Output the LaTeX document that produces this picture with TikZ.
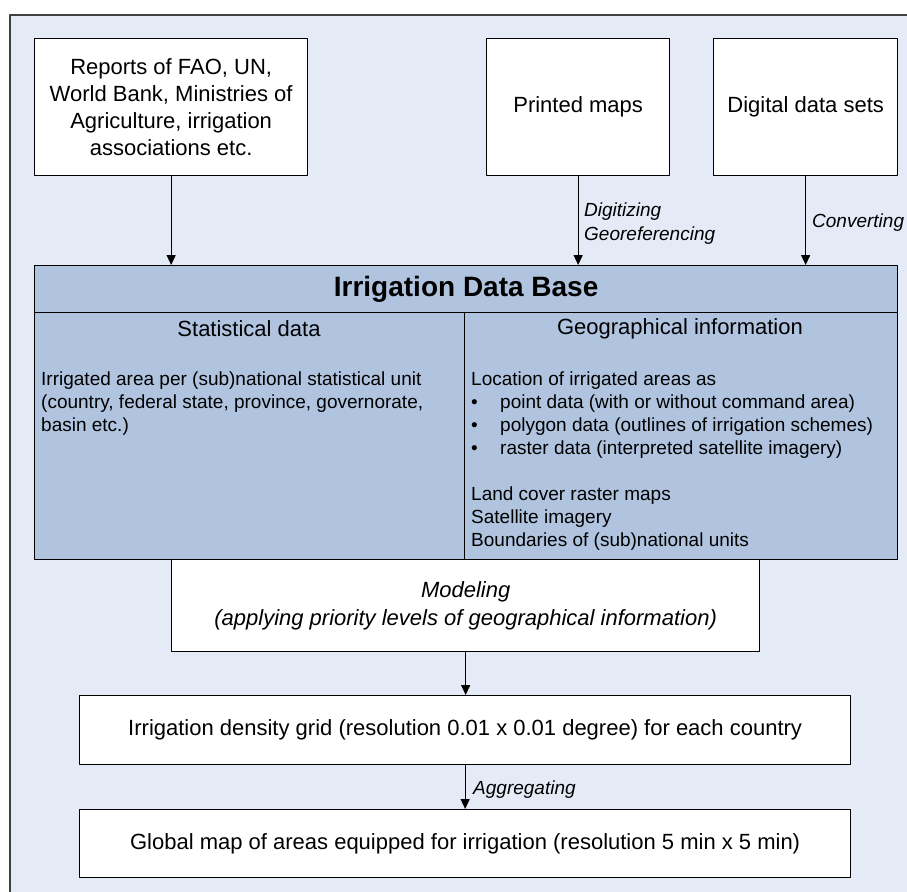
\documentclass[tikz,border=0pt]{standalone}
\usepackage{fontspec}
\setmainfont{Liberation Sans}
\usetikzlibrary{arrows.meta}
\definecolor{bgblue}{RGB}{229,235,246}
\definecolor{dbblue}{RGB}{176,196,224}
\tikzset{
  srcbox/.style={draw,fill=white,line width=1.3pt,inner sep=0pt,align=center,anchor=north west,font=\fontsize{22}{27}\selectfont},
  dbbox/.style={draw,fill=dbblue,line width=1.3pt,inner sep=0pt,anchor=north west},
  headtext/.style={inner sep=0pt,font=\fontsize{22}{26}\selectfont},
  bodytext/.style={inner sep=0pt,align=left,anchor=north west,font=\fontsize{19}{23}\selectfont},
  steplabel/.style={inner sep=0pt,align=left,anchor=west,font=\fontsize{19}{24}\selectfont\itshape},
  flow/.style={->,line width=1.3pt}
}
\begin{document}
\begin{tikzpicture}[line cap=round,line join=round,>={Triangle[width=9pt,length=10pt]},x=1pt,y=-1pt]
\useasboundingbox (0,0) rectangle (907,891);
\clip (0,0) rectangle (907,891);
\draw [line width=1.5pt,draw=black!75,fill=bgblue] (10,15) rectangle (925,910);
\node [srcbox,minimum width=273pt,minimum height=137pt] (reports) at (34,38) {Reports of FAO, UN,\\World Bank, Ministries of\\Agriculture, irrigation\\associations etc.};
\node [srcbox,minimum width=183pt,minimum height=137pt] (printed) at (486,38) {Printed maps};
\node [srcbox,minimum width=184pt,minimum height=137pt] (digital) at (713,38) {Digital data sets};
\node [dbbox,minimum width=863pt,minimum height=47pt,font=\fontsize{28}{32}\selectfont\bfseries] (dbtitle) at (34,265) {Irrigation Data Base};
\node [dbbox,minimum width=430pt,minimum height=247pt] (stat) at (34,312) {};
\node [dbbox,minimum width=433pt,minimum height=247pt] (geo) at (464,312) {};
\node [headtext] (stathead) at (249,329) {Statistical data};
\node [headtext] (geohead) at (680,329) {Geographical information};
\node [bodytext] (statbody) at (41,372) {Irrigated area per (sub)national statistical unit\\(country, federal state, province, governorate,\\basin etc.)};
\node [bodytext] (geobody) at (471,372) {Location of irrigated areas as\\
\makebox[29pt][l]{\textbullet}point data (with or without command area)\\
\makebox[29pt][l]{\textbullet}polygon data (outlines of irrigation schemes)\\
\makebox[29pt][l]{\textbullet}raster data (interpreted satellite imagery)\\[23pt]
Land cover raster maps\\
Satellite imagery\\
Boundaries of (sub)national units};
\node [srcbox,minimum width=588pt,minimum height=92pt,font=\fontsize{22}{28}\selectfont\itshape] (modeling) at (171,559) {Modeling\\(applying priority levels of geographical information)};
\node [srcbox,minimum width=771pt,minimum height=69pt] (density) at (79,695) {Irrigation density grid (resolution 0.01 x 0.01 degree) for each country};
\node [srcbox,minimum width=771pt,minimum height=68pt] (global) at (79,809) {Global map of areas equipped for irrigation (resolution 5 min x 5 min)};
\draw [flow] (reports.south) -- (reports.south |- dbtitle.north);
\draw [flow] (printed.south) -- (printed.south |- dbtitle.north);
\draw [flow] (digital.south) -- (digital.south |- dbtitle.north);
\draw [flow] (modeling.south) -- (modeling.south |- density.north);
\draw [flow] (density.south) -- (density.south |- global.north);
\node [steplabel] (digitizing) at (584,224) {Digitizing\\Georeferencing};
\node [steplabel] (converting) at (812,223) {Converting};
\node [steplabel] (aggregating) at (473,790) {Aggregating};
\end{tikzpicture}
\end{document}
